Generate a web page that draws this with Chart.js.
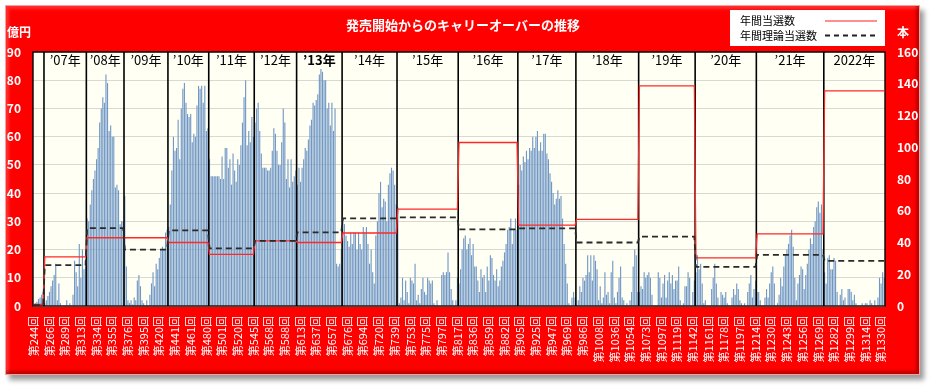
<!DOCTYPE html>
<html><head><meta charset="utf-8">
<script src="https://cdn.jsdelivr.net/npm/chart.js@4.4.1/dist/chart.umd.min.js"></script>
<style>
html,body{margin:0;padding:0;background:#fff;width:931px;height:386px;overflow:hidden;}
#frame{position:absolute;left:5px;top:5px;width:913px;height:368px;background:#FF0000;border:1px solid #F4A0A0;
box-shadow:4px 5px 5px rgba(0,0,0,0.4), inset -3px -3px 3px rgba(110,0,0,0.45), inset 3px 3px 3px rgba(255,255,255,0.18);}
#wrap{position:absolute;left:0;top:0;width:931px;height:386px;}
</style></head><body>
<div id="frame"></div>
<div id="wrap"><canvas id="c" width="931" height="386"></canvas></div>
<script>
// ---- data (億円 carry-over per draw, grouped by year) ----
const bars2006 = [0.5, 1, 1.5, 2.5, 3, 4, 5];
const bars2007 = [1, 2, 3.5, 5, 7, 9, 11, 15, 2, 8, 1, 0, 0, 0, 2, 0, 1, 0, 4, 16, 12, 7, 22, 10, 20, 13, 14];
const bars2008 = [31, 30, 36, 41, 45, 48, 52, 56, 65, 70, 74, 72, 82, 79, 62, 64, 60, 60, 42, 43, 41, 29, 30, 30];
const bars2009 = [39, 14, 2, 1, 2, 0.5, 3, 2, 9, 11, 7, 2, 1, 0, 2, 0, 4, 8, 12, 7, 15, 13, 17, 20, 21, 20, 26, 27];
const bars2010 = [28, 36, 48, 60, 55, 56, 66, 52, 70, 77, 79, 72, 68, 67, 68, 58, 61, 60, 71, 78, 77, 78, 72, 78, 62, 63];
const bars2011 = [52, 46, 46, 46, 46, 46, 46, 45, 53, 45, 56, 56, 49, 52, 43, 54, 48, 44, 52, 50, 57, 65, 74, 80, 57, 62, 58, 67, 60];
const bars2012 = [65, 70, 72, 62, 54, 49, 49, 49, 48, 48, 49, 55, 63, 61, 55, 50, 50, 58, 70, 65, 45, 52, 42, 52, 44, 46, 48];
const bars2013 = [43, 49, 44, 49, 52, 56, 55, 59, 64, 66, 72, 71, 73, 75, 82, 84, 83, 80, 80, 70, 72, 64, 72, 62, 70, 15, 14, 15, 20];
const bars2014 = [31, 29, 25, 23, 21, 26, 22, 26, 26, 20, 26, 22, 20, 28, 26, 28, 22, 15, 20, 12, 8, 25, 30, 40, 44, 35, 38, 37, 30, 43, 47, 49, 48, 43, 36];
const bars2015 = [35, 1, 3, 10, 2, 9, 5, 1, 10, 9, 8, 15, 2, 4, 1, 6, 10, 5, 4, 10, 9, 8, 9, 1, 0, 2, 0, 0, 11, 12, 11, 12, 19, 12, 6, 2, 0, 2, 10];
const bars2016 = [8, 13, 20, 24, 25, 20, 22, 24, 18, 22, 14, 14, 9, 5, 13, 10, 11, 5, 14, 9, 18, 17, 11, 9, 13, 7, 9, 14, 16, 19, 22, 27, 28, 31, 22, 27, 31, 27];
const bars2017 = [43, 50, 48, 53, 51, 55, 52, 56, 55, 60, 56, 60, 62, 55, 58, 55, 61, 61, 54, 52, 47, 44, 40, 36, 38, 41, 38, 39, 31, 22, 15, 8, 1, 0, 3, 5, 3];
const bars2018 = [0, 2, 7, 5, 10, 9, 11, 18, 12, 18, 9, 18, 16, 13, 2, 7, 1, 3, 12, 4, 5, 1, 12, 16, 3, 1, 5, 10, 14, 3, 2, 0, 1, 0, 2, 5, 14, 20, 18, 5];
const bars2019 = [5, 7, 6, 12, 10, 11, 12, 10, 4, 0, 0, 0, 12, 10, 3, 8, 11, 3, 9, 12, 8, 11, 6, 9, 9, 14, 2, 0, 1, 7, 7, 12, 10, 0, 5, 9];
const bars2020 = [12, 18, 13, 15, 8, 1, 2, 0, 0, 0, 6, 10, 15, 8, 3, 0, 5, 4, 3, 5, 1, 0, 0, 3, 6, 4, 8, 6, 2, 1, 0, 1, 0, 5, 8, 11, 3, 6, 9];
const bars2021 = [5, 5, 2, 0, 0, 3, 6, 3, 8, 12, 14, 8, 0, 1, 4, 10, 7, 14, 18, 20, 22, 25, 27, 21, 10, 2, 8, 11, 14, 13, 6, 11, 15, 20, 24, 22, 28, 30, 35, 37, 33, 36, 20];
const bars2022 = [12, 8, 17, 18, 13, 13, 17, 16, 5, 0, 4, 6, 2, 3, 0, 6, 6, 5, 2, 4, 1, 0, 0, 0, 1, 0, 1, 1, 0, 2, 1, 0, 2, 0, 3, 10, 8, 12, 10];

// yearly counts (本)
const yearNames      = ['', '’07年', '’08年', '’09年', '’10年', '’11年', '’12年', '’13年', '’14年', '’15年', '’16年', '’17年', '’18年', '’19年', '’20年', '’21年', '2022年'];
const winnersActual  = [1, 31, 43, 43, 40, 32.5, 41, 40, 46, 61, 103, 51, 54.6, 138.7, 30.3, 45.4, 135.5];
const winnersTheory  = [0.5, 25.7, 49, 35.5, 47.6, 36.3, 41, 46.4, 55.2, 55.8, 48.3, 48.9, 40, 43.7, 24.7, 32.2, 28.4];

// x tick labels (every 10th draw shown)
const tickLabels = ['第244回','第266回','第289回','第313回','第334回','第355回','第376回','第395回','第420回','第441回',
 '第461回','第480回','第501回','第520回','第545回','第568回','第588回','第613回','第637回','第657回',
 '第676回','第694回','第720回','第739回','第753回','第775回','第797回','第817回','第836回','第859回',
 '第882回','第905回','第925回','第947回','第969回','第986回','第1008回','第1036回','第1054回','第1073回',
 '第1097回','第1119回','第1142回','第1161回','第1178回','第1197回','第1214回','第1230回','第1243回','第1256回',
 '第1269回','第1282回','第1299回','第1314回','第1330回'];
const LABEL_EVERY = 10;

const yearBars = [bars2006,bars2007,bars2008,bars2009,bars2010,bars2011,bars2012,bars2013,bars2014,bars2015,bars2016,bars2017,bars2018,bars2019,bars2020,bars2021,bars2022];

// ---- build per-category tables ----
const categories = [], carry = [], actualLine = [], theoryLine = [], yearStart = [];
yearBars.forEach((arr, k) => {
  yearStart.push(carry.length);
  arr.forEach(v => {
    const j = carry.length;
    categories.push(j % LABEL_EVERY === 0 ? (tickLabels[j / LABEL_EVERY] || '') : '');
    carry.push(v);
    actualLine.push(winnersActual[k]);
    theoryLine.push(winnersTheory[k]);
  });
});
yearStart.push(carry.length);

const FONT = '"Noto Sans CJK JP", "Noto Sans", sans-serif';

const decor = {
  id: 'decor',
  beforeDraw(chart) {
    const {ctx, chartArea: a} = chart;
    ctx.save();
    ctx.fillStyle = '#FFFFF4';
    ctx.fillRect(a.left, a.top, a.right - a.left, a.bottom - a.top);
    ctx.restore();
  },
  afterDatasetDraw(chart, args) {
    if (args.index !== 0) return;
    const {ctx, chartArea: a, scales: {x}} = chart;
    ctx.save();
    ctx.strokeStyle = '#000';
    ctx.lineWidth = 1.6;
    for (let k = 1; k < yearStart.length - 1; k++) {
      const b = yearStart[k];
      const px = (x.getPixelForValue(b - 1) + x.getPixelForValue(b)) / 2;
      ctx.beginPath(); ctx.moveTo(px, a.top); ctx.lineTo(px, a.bottom); ctx.stroke();
    }
    ctx.lineWidth = 1.4;
    ctx.strokeRect(a.left, a.top, a.right - a.left, a.bottom - a.top);
    ctx.restore();
  },
  afterDraw(chart) {
    const {ctx, chartArea: a, scales: {x}} = chart;
    ctx.save();
    // year labels
    ctx.fillStyle = '#000';
    ctx.textAlign = 'center'; ctx.textBaseline = 'middle';
    for (let k = 1; k < yearStart.length - 1; k++) {
      const l = (x.getPixelForValue(yearStart[k] - 1) + x.getPixelForValue(yearStart[k])) / 2;
      const r = k + 1 < yearStart.length - 1
        ? (x.getPixelForValue(yearStart[k + 1] - 1) + x.getPixelForValue(yearStart[k + 1])) / 2
        : a.right;
      ctx.font = (yearNames[k] === '’13年' ? 'bold ' : '') + '13px ' + FONT;
      ctx.fillText(yearNames[k], (l + r) / 2, a.top + 8.5);
    }
    // title
    ctx.fillStyle = '#fff';
    ctx.font = 'bold 13px ' + FONT;
    ctx.fillText('発売開始からのキャリーオーバーの推移', 463, 25.5);
    // unit labels
    ctx.font = 'bold 12px ' + FONT;
    ctx.textAlign = 'left';
    ctx.fillText('億円', 7, 32);
    ctx.fillText('本', 897, 32);
    // legend
    ctx.fillStyle = '#fff';
    ctx.fillRect(730, 10, 155, 36);
    ctx.fillStyle = '#000';
    ctx.font = '11px ' + FONT;
    ctx.fillText('年間当選数', 740, 21);
    ctx.fillText('年間理論当選数', 740, 35.5);
    ctx.strokeStyle = '#FF2020'; ctx.lineWidth = 1.2;
    ctx.beginPath(); ctx.moveTo(825, 21); ctx.lineTo(877, 21); ctx.stroke();
    ctx.strokeStyle = '#222'; ctx.lineWidth = 1.8; ctx.setLineDash([5, 4]);
    ctx.beginPath(); ctx.moveTo(825, 35.5); ctx.lineTo(877, 35.5); ctx.stroke();
    ctx.restore();
  }
};

new Chart(document.getElementById('c'), {
  type: 'bar',
  data: {
    labels: categories,
    datasets: [
      {type: 'bar', label: 'キャリーオーバー', data: carry, yAxisID: 'y', backgroundColor: '#7198C5',
       categoryPercentage: 1, barPercentage: 0.72, order: 3},
      {type: 'line', label: '年間当選数', data: actualLine, yAxisID: 'y1', borderColor: '#FF2828',
       borderWidth: 1.3, pointRadius: 0, tension: 0, order: 2},
      {type: 'line', label: '年間理論当選数', data: theoryLine, yAxisID: 'y1', borderColor: '#2a2a2a',
       borderWidth: 1.8, borderDash: [6, 4], pointRadius: 0, tension: 0, order: 1}
    ]
  },
  options: {
    responsive: false, animation: false, devicePixelRatio: 1,
    layout: {padding: {top: 52, left: 0, right: 0, bottom: 0}},
    plugins: {legend: {display: false}, title: {display: false}, tooltip: {enabled: false}},
    scales: {
      x: {
        type: 'category', offset: true,
        grid: {display: false, drawTicks: false}, border: {display: false},
        ticks: {autoSkip: false, maxRotation: 90, minRotation: 90, padding: 10, color: '#fff',
                font: {family: FONT, size: 11},
                callback: (v, i) => categories[i] ? categories[i] : null},
        afterFit: s => { s.height = 80; }
      },
      y: {
        position: 'left', min: 0, max: 90,
        ticks: {stepSize: 10, color: '#fff', padding: 12, font: {family: FONT, size: 12, weight: 'bold'}},
        grid: {color: '#D9D9D3', drawTicks: false}, border: {display: false},
        afterFit: s => { s.width = 33; }
      },
      y1: {
        position: 'right', min: 0, max: 160,
        ticks: {stepSize: 20, color: '#fff', padding: 12, font: {family: FONT, size: 12, weight: 'bold'}},
        grid: {display: false, drawTicks: false}, border: {display: false},
        afterFit: s => { s.width = 46; }
      }
    }
  },
  plugins: [decor]
});
</script></body></html>
